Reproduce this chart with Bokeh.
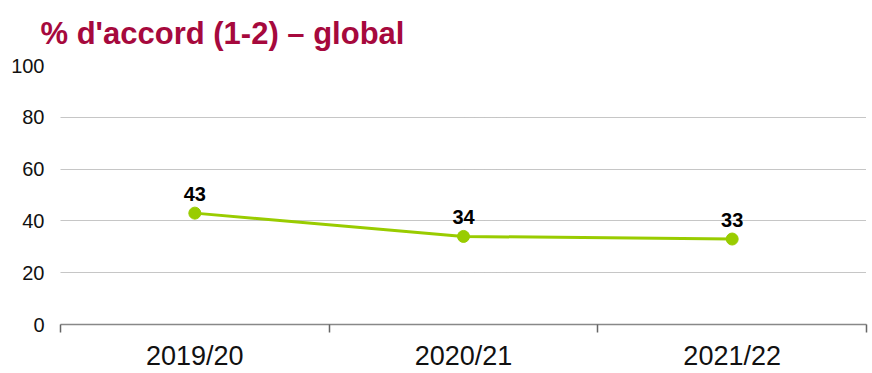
from bokeh.plotting import figure
from bokeh.models import FixedTicker, ColumnDataSource, Range1d, Title
from bokeh.core.properties import value
from bokeh.embed import file_html
from bokeh.resources import INLINE

title_text = "% d'accord (1-2) – global"
categories = ["2019/20", "2020/21", "2021/22"]
values = [43, 34, 33]
y_ticks = [0, 20, 40, 60, 80, 100]

xs = [i + 0.5 for i in range(len(categories))]
src = ColumnDataSource(dict(x=xs, y=values, lbl=[str(v) for v in values]))

W, H = 872, 373
p = figure(width=W, height=H, output_backend="svg", toolbar_location=None,
           x_range=Range1d(0, len(categories)), y_range=Range1d(0, 100),
           min_border_left=60, min_border_right=6, min_border_bottom=48, min_border_top=65)
p.outline_line_color = None
p.background_fill_color = "white"

t = Title(text=title_text, text_font="Liberation Sans",
          text_font_size="31px", text_font_style="bold", text_color="#A6093D",
          align="left", offset=-20, vertical_align="top", standoff=26)
p.add_layout(t, "above")

p.line("x", "y", source=src, line_color="#99CC00", line_width=3)
p.scatter("x", "y", source=src, size=12, fill_color="#99CC00", line_color="#99CC00")
p.text("x", "y", text="lbl", source=src, text_font=value("Liberation Sans"),
       text_font_size="20px", text_font_style="bold", text_align="center",
       text_baseline="alphabetic", y_offset=-19, text_color="black")

# x axis
p.xaxis.ticker = FixedTicker(ticks=xs, minor_ticks=list(range(len(categories) + 1)))
p.xaxis.major_label_overrides = {x: c for x, c in zip(xs, categories)}
p.xaxis.major_tick_line_color = None
p.xaxis.major_tick_out = 0
p.xaxis.major_tick_in = 0
p.xaxis.minor_tick_in = 0
p.xaxis.minor_tick_out = 8
p.xaxis.minor_tick_line_color = "#666666"
p.xaxis.minor_tick_line_width = 1.5
p.xaxis.axis_line_color = "#888888"
p.xaxis.axis_line_width = 1.5
p.xaxis.major_label_text_font = "Liberation Sans"
p.xaxis.major_label_text_font_size = "27px"
p.xaxis.major_label_text_color = "#111111"
p.xaxis.major_label_standoff = 8
p.xgrid.grid_line_color = None

# y axis
p.yaxis.ticker = FixedTicker(ticks=y_ticks)
p.yaxis.axis_line_color = None
p.yaxis.major_tick_line_color = None
p.yaxis.major_tick_out = 0
p.yaxis.major_tick_in = 0
p.yaxis.minor_tick_line_color = None
p.yaxis.major_label_text_font = "Liberation Sans"
p.yaxis.major_label_text_font_size = "20px"
p.yaxis.major_label_text_color = "#111111"
p.yaxis.major_label_standoff = 16
p.ygrid.ticker = FixedTicker(ticks=y_ticks[1:])
p.ygrid.grid_line_color = "#8c8c8c"
p.ygrid.grid_line_dash = "1 1"
p.ygrid.grid_line_width = 1

open("out.html", "w").write(file_html(p, INLINE))
